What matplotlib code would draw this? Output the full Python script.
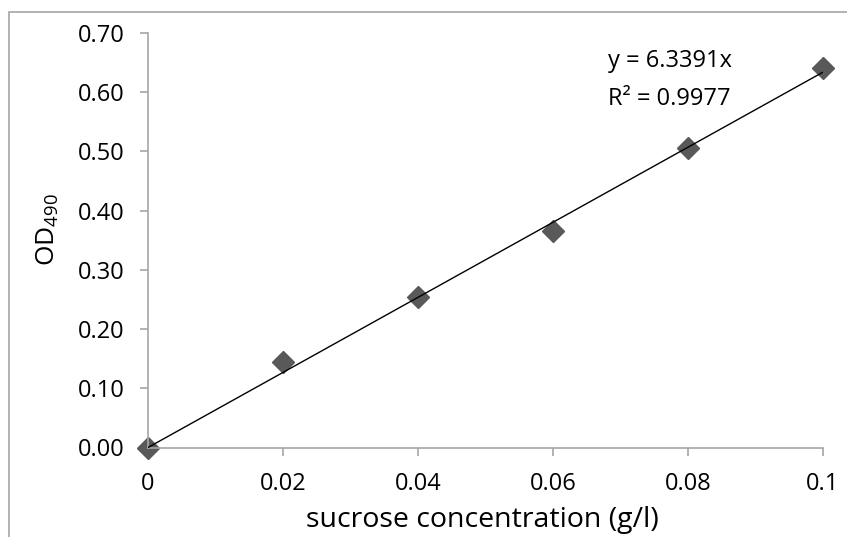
import matplotlib.pyplot as plt
from matplotlib.patches import Rectangle

plt.rcParams['font.family'] = ['Open Sans', 'DejaVu Sans']
plt.rcParams['mathtext.fontset'] = 'custom'
plt.rcParams['mathtext.rm'] = 'Open Sans'

conc = [0, 0.02, 0.04, 0.06, 0.08, 0.1]
od = [0.0, 0.145, 0.255, 0.365, 0.505, 0.641]
slope = 6.3391
r2 = 0.9977
xticks = [0, 0.02, 0.04, 0.06, 0.08, 0.1]
xticklabels = ['0', '0.02', '0.04', '0.06', '0.08', '0.1']
yticks = [0.0, 0.1, 0.2, 0.3, 0.4, 0.5, 0.6, 0.7]

fig = plt.figure(figsize=(8.47, 5.37), dpi=100)
W, H = 847, 537
ax = fig.add_axes([148 / W, 1 - 447.5 / H, (823 - 148) / W, (447.5 - 33) / H])

# chart area border (cropped at right and bottom)
fig.patches.append(Rectangle((9 / W, -0.1), 1.2, 1.1 - 12 / H, transform=fig.transFigure,
                             fill=False, edgecolor='#a6a6a6', linewidth=1.2))

fit_x = [conc[0], conc[-1]]
fit_y = [slope * v for v in fit_x]
ax.plot(fit_x, fit_y, color='black', linewidth=1, zorder=3)
ax.plot(conc, od, linestyle='none', marker='D', markersize=11.5, color='#595959', zorder=2,
        clip_on=False)

ax.set_xlim(0, 0.1)
ax.set_ylim(0, 0.7)
ax.set_xticks(xticks)
ax.set_xticklabels(xticklabels)
ax.set_yticks(yticks)
ax.set_yticklabels([f'{v:.2f}' for v in yticks])

for s in ['top', 'right']:
    ax.spines[s].set_visible(False)
for s in ['left', 'bottom']:
    ax.spines[s].set_color('#a6a6a6')
    ax.spines[s].set_linewidth(1.2)
ax.tick_params(direction='out', length=6, width=1.2, color='#a6a6a6', labelsize=17)
ax.tick_params(axis='y', pad=11)
ax.tick_params(axis='x', pad=12)

fig.text(482 / W, 1 - 527 / H, 'sucrose concentration (g/l)', fontsize=20.5,
         ha='center', va='baseline')
fig.text(48 / W, 1 - 229.5 / H, r'$\mathregular{OD_{490}}$', fontsize=19,
         rotation=90, ha='center', va='center')

ax.text(0.0681, 0.6426, f'y = {slope}x', fontsize=17, va='baseline')
ax.text(0.0681, 0.5784, f'R² = {r2}', fontsize=17, va='baseline')

fig.savefig('out.png', dpi=100)
